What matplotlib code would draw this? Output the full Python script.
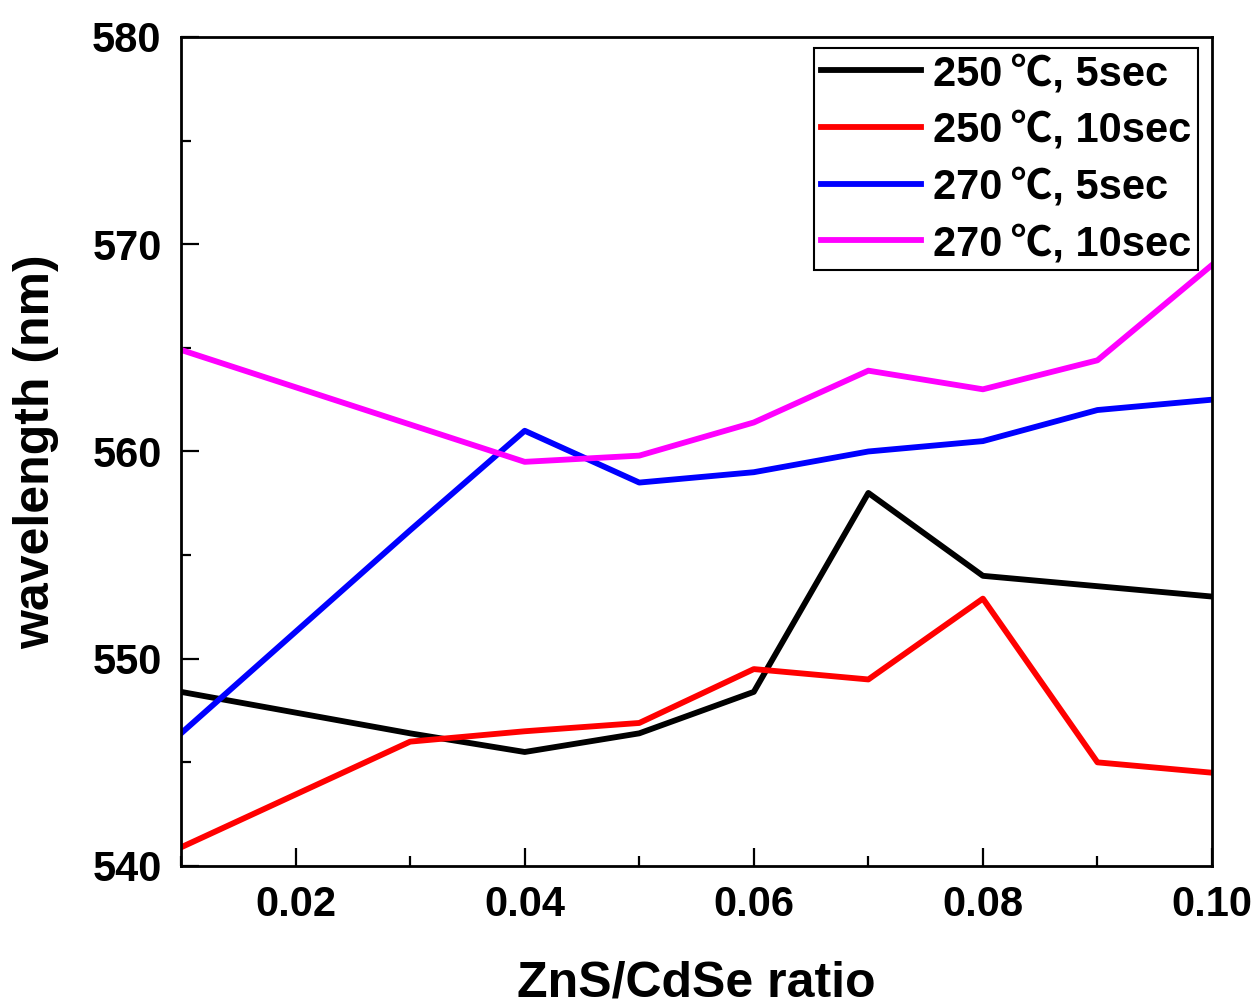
import matplotlib
matplotlib.use("Agg")
import matplotlib.pyplot as plt
from matplotlib.ticker import MultipleLocator

# ratio values
x = [0.01, 0.03, 0.04, 0.05, 0.06, 0.07, 0.08, 0.09, 0.10]

# wavelength (nm) for each condition
w250_5 = [548.4, 546.4, 545.5, 546.4, 548.4, 558.0, 554.0, 553.5, 553.0]
w250_10 = [540.9, 546.0, 546.5, 546.9, 549.5, 549.0, 552.9, 545.0, 544.5]
w270_5 = [546.4, 556.2, 561.0, 558.5, 559.0, 560.0, 560.5, 562.0, 562.5]
w270_10 = [564.9, 561.3, 559.5, 559.8, 561.4, 563.9, 563.0, 564.4, 569.0]

labels = ['250\u2009\u2103, 5sec', '250\u2009\u2103, 10sec', '270\u2009\u2103, 5sec', '270\u2009\u2103, 10sec']
colors = ['black', '#ff0000', '#0000ff', '#ff00ff']

plt.rcParams['font.family'] = ['Liberation Sans', 'Noto Sans CJK SC', 'DejaVu Sans']
plt.rcParams['font.weight'] = 'bold'

fig = plt.figure(figsize=(12.6, 10.08), dpi=100)
ax = fig.add_axes([0.1437, 0.1409, 0.8182, 0.8224])

for y, c, lab in zip([w250_5, w250_10, w270_5, w270_10], colors, labels):
    ax.plot(x, y, color=c, lw=4.2, label=lab)

ax.set_xlim(0.01, 0.10)
ax.set_ylim(540, 580)
ax.xaxis.set_minor_locator(MultipleLocator(0.01))
ax.yaxis.set_major_locator(MultipleLocator(10))
ax.yaxis.set_minor_locator(MultipleLocator(5))
ax.set_xticks([0.02, 0.04, 0.06, 0.08, 0.10])
ax.set_xticklabels(['0.02', '0.04', '0.06', '0.08', '0.10'])

ax.tick_params(which='both', direction='in', top=False, right=False, width=1.6, labelsize=30, pad=14)
ax.tick_params(which='major', length=13)
ax.tick_params(which='minor', length=7)
for s in ax.spines.values():
    s.set_linewidth(2)

ax.set_xlabel('ZnS/CdSe ratio', fontsize=36, fontweight='bold', labelpad=25)
ax.set_ylabel('wavelength (nm)', fontsize=36, fontweight='bold', labelpad=24)

leg = ax.legend(loc='upper right', bbox_to_anchor=(0.986, 0.987), fontsize=30,
                handlelength=2.4, handletextpad=0.3, labelspacing=0.4,
                borderpad=0.15, borderaxespad=0, fancybox=False, framealpha=1,
                edgecolor='black')
leg.get_frame().set_linewidth(1.5)
for t in leg.get_texts():
    t.set_fontweight('bold')

fig.savefig('out.png', dpi=100)
